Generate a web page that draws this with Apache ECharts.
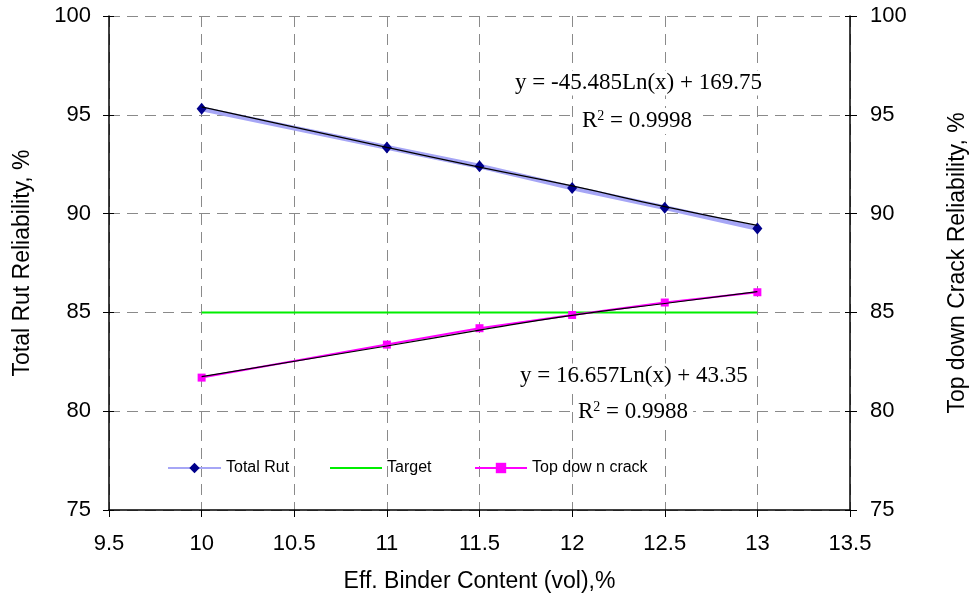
<!DOCTYPE html>
<html><head><meta charset="utf-8">
<script src="https://cdn.jsdelivr.net/npm/echarts@6/dist/echarts.min.js"></script>
<style>html,body{margin:0;padding:0;background:#fff}#c{width:972px;height:604px}</style>
</head><body><div id="c"></div>
<script>
const binder = [10, 11, 11.5, 12, 12.5, 13];
const totalRut = [95.3, 93.35, 92.4, 91.3, 90.3, 89.25];
const topDown = [81.7, 83.37, 84.2, 84.87, 85.5, 86.02];
const targetX = [10, 13];
const targetY = [85, 85];
const rutTrend = [95.4, 93.35, 92.35, 91.4, 90.35, 89.4];
const crackTrend = [81.75, 83.3, 84.1, 84.85, 85.45, 86.05];
const xTicks = [9.5, 10, 10.5, 11, 11.5, 12, 12.5, 13, 13.5];
const yTicks = [75, 80, 85, 90, 95, 100];
const legendNames = ['Total Rut', 'Target', 'Top dow n crack'];
const eq1 = ['y = -45.485Ln(x) + 169.75', 'R{s|2} = 0.9998'];
const eq2 = ['y = 16.657Ln(x) + 43.35', 'R{s|2} = 0.9988'];

const pairs = (xs, ys) => xs.map((x, i) => [x, ys[i]]);
const chart = echarts.init(document.getElementById('c'));
const gridLine = {show: true, lineStyle: {color: '#8a8a8a', type: [11, 7], width: 1}};
const tickFont = {fontFamily: 'Liberation Sans, Arial', fontSize: 22, color: '#000'};
const nameFont = {fontFamily: 'Liberation Sans, Arial', fontSize: 23, color: '#000'};
const yMin = yTicks[0], yMax = yTicks[yTicks.length - 1];
const overlayY = (pos) => ({
  type: 'value', min: yMin, max: yMax, interval: 5, position: pos,
  axisLine: {show: false}, axisLabel: {show: false}, splitLine: {show: false},
  axisTick: {show: true, inside: true, length: 5, lineStyle: {color: '#000'}}
});
const legFont = {fontFamily: 'Liberation Sans, Arial', fontSize: 16, color: '#000'};
const eqStyle = (text) => ({
  text: text, font: '23px "Liberation Serif", "Times New Roman"', fill: '#000',
  backgroundColor: '#fff', padding: [1, 5], align: 'left', verticalAlign: 'middle',
  textAlign: 'left', textVerticalAlign: 'middle',
  rich: {s: {fontSize: 14, fontFamily: 'Liberation Serif', verticalAlign: 'top', padding: [0, 0, 10, 0]}}
});
chart.setOption({
  animation: false,
  backgroundColor: '#fff',
  grid: {left: 109, right: 122, top: 16, bottom: 94, containLabel: false, outerBoundsMode: 'none'},
  xAxis: {
    type: 'value', min: xTicks[0], max: xTicks[xTicks.length - 1], interval: 0.5,
    name: 'Eff. Binder Content (vol),%', nameLocation: 'middle', nameGap: 60,
    nameTextStyle: nameFont,
    axisLine: {lineStyle: {color: '#000', width: 1.5}},
    axisTick: {show: true, length: 7, lineStyle: {color: '#000'}},
    axisLabel: Object.assign({margin: 23}, tickFont),
    splitLine: gridLine
  },
  yAxis: [{
    type: 'value', min: yMin, max: yMax, interval: 5,
    name: 'Total Rut Reliability, %', nameLocation: 'middle', nameGap: 75, nameRotate: 90,
    nameTextStyle: nameFont,
    axisLine: {show: true, lineStyle: {color: '#000', width: 1.5}},
    axisTick: {show: true, length: 6, lineStyle: {color: '#000'}},
    axisLabel: Object.assign({margin: 18}, tickFont),
    splitLine: gridLine
  }, {
    type: 'value', min: yMin, max: yMax, interval: 5, position: 'right',
    name: 'Top down Crack Reliability, %', nameLocation: 'middle', nameGap: 96, nameRotate: 90,
    nameTextStyle: nameFont,
    axisLine: {show: true, lineStyle: {color: '#000', width: 1.5}},
    axisTick: {show: true, length: 7, lineStyle: {color: '#000'}},
    axisLabel: Object.assign({margin: 20}, tickFont),
    splitLine: {show: false}
  }, overlayY('left'), overlayY('right')],
  legend: [
    {left: 162, top: 455, itemWidth: 53, itemHeight: 13, textStyle: legFont, data: [legendNames[0]]},
    {left: 324, top: 455, itemWidth: 52, itemHeight: 13, textStyle: legFont, data: [{name: legendNames[1], itemStyle: {opacity: 0}}]},
    {left: 469, top: 455, itemWidth: 52, itemHeight: 13, textStyle: legFont, data: [legendNames[2]]}
  ],
  series: [
    {name: legendNames[1], type: 'line', data: pairs(targetX, targetY), symbol: 'none',
     lineStyle: {color: '#00ee00', width: 2}, itemStyle: {color: '#00ee00'}, z: 2},
    {name: legendNames[0], type: 'line', data: pairs(binder, totalRut), symbol: 'diamond', symbolSize: [10, 12],
     lineStyle: {color: '#a6a6f6', width: 5}, itemStyle: {color: '#00008b'}, z: 3},
    {name: legendNames[2], type: 'line', data: pairs(binder, topDown), symbol: 'rect', symbolSize: 8,
     lineStyle: {color: '#ff00ff', width: 2}, itemStyle: {color: '#ff00ff'}, z: 3},
    {name: 'rutTrend', type: 'line', data: pairs(binder, rutTrend), symbol: 'none', smooth: true,
     lineStyle: {color: '#000', width: 1.2}, z: 4, silent: true},
    {name: 'crackTrend', type: 'line', data: pairs(binder, crackTrend), symbol: 'none', smooth: true,
     lineStyle: {color: '#000', width: 1.2}, z: 4, silent: true}
  ],
  graphic: [
    {type: 'text', x: 510, y: 83, z: 10, style: eqStyle(eq1[0])},
    {type: 'text', x: 577, y: 121, z: 10, style: eqStyle(eq1[1])},
    {type: 'text', x: 515, y: 376, z: 10, style: eqStyle(eq2[0])},
    {type: 'text', x: 573, y: 412, z: 10, style: eqStyle(eq2[1])}
  ]
});
</script></body></html>
